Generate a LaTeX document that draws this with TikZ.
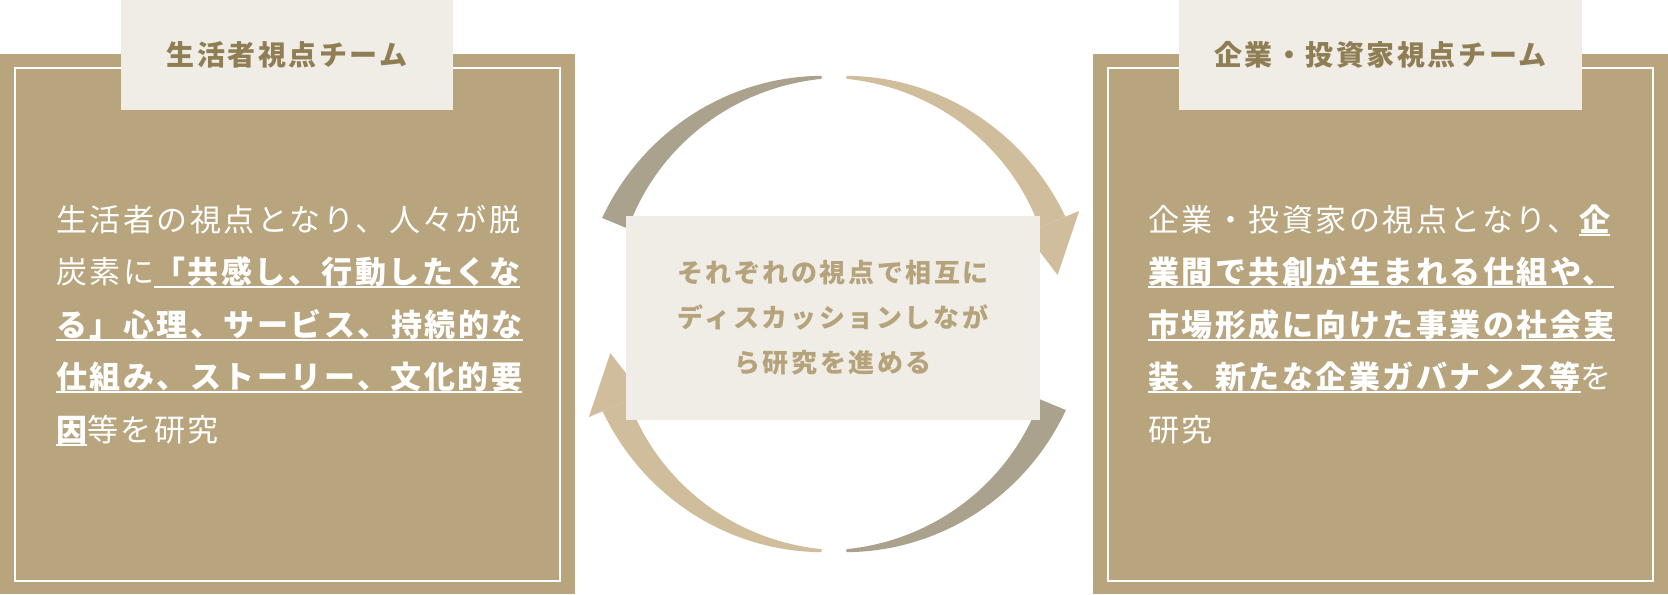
\documentclass[tikz,border=0pt]{standalone}
\usepackage{fontspec}
\setmainfont{Noto Sans CJK JP}
\newfontfamily\jpbody[LetterSpace=8]{Noto Sans CJK JP}
\newfontfamily\jptitle[LetterSpace=9]{Noto Sans CJK JP}
\newfontfamily\jpmid[LetterSpace=10]{Noto Sans CJK JP}
\definecolor{PanelTan}{RGB}{184,165,126}
\definecolor{Paper}{RGB}{240,236,230}
\definecolor{TitleGold}{RGB}{143,125,84}
\definecolor{MidGold}{RGB}{181,163,123}
\definecolor{ArcGray}{RGB}{171,162,142}
\definecolor{ArcTan}{RGB}{208,189,155}
\usetikzlibrary{positioning, calc}

\newlength\ulwd
\newcommand\ulbold[1]{\settowidth\ulwd{\bfseries #1}\rlap{\rule[-2.4pt]{\ulwd}{1pt}}{\bfseries #1}}

% tapered ring piece: colour, thin end angle, thick end angle
\newcommand\taperband[3]{%
  \fill[#1] plot[domain=#2:#3, samples=60] (\x:{237+hw(\x,#2,#3)})
    -- plot[domain=#3:#2, samples=60] (\x:{237-hw(\x,#2,#3)}) -- cycle;}

\begin{document}
\begin{tikzpicture}[
        x=0.5pt, y=-0.5pt,
        declare function={hw(\a,\p,\q)=1.5+12.5*(\a-\p)/(\q-\p);},
        panel/.style={fill=PanelTan, inner sep=0pt, minimum width=287.5pt, minimum height=270pt},
        frame/.style={draw=white, line width=1pt},
        tab/.style={fill=Paper, inner sep=0pt, minimum height=55pt, text=TitleGold,
            font=\jptitle\bfseries\fontsize{14}{16}\selectfont},
        body/.style={inner sep=0pt, align=left, text=white,
            font=\jpbody\fontsize{15.5}{26.25}\selectfont},
        talk/.style={fill=Paper, inner sep=0pt, minimum width=207pt, minimum height=102pt,
            align=center, text=MidGold, font=\jpmid\bfseries\fontsize{13}{22.5}\selectfont}
    ]
        \useasboundingbox (0,0) rectangle (1668,594);
        \fill[white] (0,0) rectangle (1668,594);

        % panels
        \node[panel] (leftpanel) at (287.5,324) {};
        \node[panel] (rightpanel) at (1380.5,324) {};
        \draw[frame] ([xshift=7.5pt,yshift=-7pt]leftpanel.north west) rectangle ([xshift=-7.5pt,yshift=6.5pt]leftpanel.south east);
        \draw[frame] ([xshift=7.5pt,yshift=-7pt]rightpanel.north west) rectangle ([xshift=-7.5pt,yshift=6.5pt]rightpanel.south east);
        \node[tab, minimum width=166pt] (lefttab) at (287,55) {生活者視点チーム};
        \node[tab, minimum width=201.5pt] (righttab) at (1380.5,55) {企業・投資家視点チーム};

        % base is the last line
        \node[body, anchor=base west] (leftbody) at (56,441) {生活者の視点となり、人々が脱\\
            炭素に\ulbold{「共感し、行動したくな}\\
            \ulbold{る」心理、サービス、持続的な}\\
            \ulbold{仕組み、ストーリー、文化的要}\\
            \ulbold{因}等を研究};
        \node[body, anchor=base west] (rightbody) at (1148,441) {企業・投資家の視点となり、\ulbold{企}\\
            \ulbold{業間で共創が生まれる仕組や、}\\
            \ulbold{市場形成に向けた事業の社会実}\\
            \ulbold{装、新たな企業ガバナンス等}を\\
            研究};

        % cycle arrows
        \begin{scope}[shift={(834,314)}, yscale=-1]
            \taperband{ArcGray}{93}{157.5}
            \taperband{ArcTan}{87}{22.8}
            \fill[ArcTan] (22.8:208) -- (22.8:266) -- (9.9:227) -- cycle;
            \taperband{ArcGray}{273}{337.5}
            \taperband{ArcTan}{267}{202.8}
            \fill[ArcTan] (202.8:208) -- (202.8:266) -- (189.9:227) -- cycle;
        \end{scope}

        \node[talk] (discuss) at (833,318) {それぞれの視点で相互に\\ディスカッションしなが\\ら研究を進める};
    \end{tikzpicture}
\end{document}
